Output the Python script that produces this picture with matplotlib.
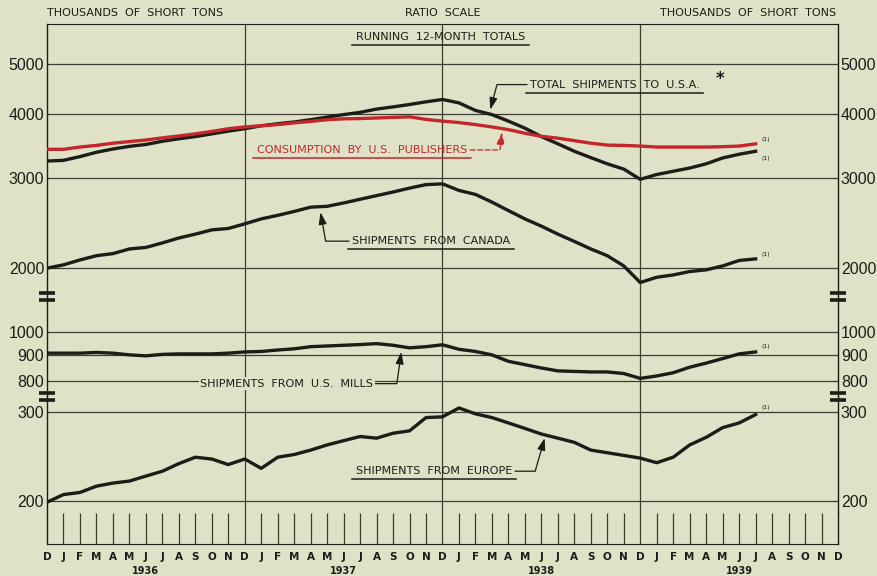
import matplotlib
matplotlib.use("Agg")
import matplotlib.pyplot as plt
from matplotlib.lines import Line2D
from matplotlib.text import Text
from matplotlib.ticker import NullLocator
from matplotlib.transforms import IdentityTransform
import numpy as np

# 12-month running totals, thousands of short tons, Dec 1935 .. Jul 1939
total_usa = [3235, 3245, 3300, 3365, 3415, 3455, 3485, 3535, 3575, 3610, 3655, 3700,
             3740, 3790, 3825, 3855, 3895, 3940, 3985, 4025, 4085, 4125, 4170, 4220,
             4265, 4200, 4060, 3985, 3870, 3750, 3610, 3495, 3380, 3285, 3195, 3120,
             2980, 3045, 3090, 3135, 3195, 3280, 3335, 3380]
consumption = [3410, 3410, 3445, 3470, 3505, 3530, 3555, 3590, 3620, 3655, 3695, 3740,
               3770, 3790, 3810, 3840, 3865, 3895, 3910, 3915, 3925, 3935, 3945, 3900,
               3870, 3845, 3810, 3770, 3725, 3665, 3615, 3585, 3545, 3505, 3475, 3470,
               3460, 3445, 3445, 3445, 3445, 3450, 3460, 3495]
canada = [2000, 2030, 2075, 2115, 2135, 2180, 2195, 2240, 2290, 2330, 2375, 2390,
          2440, 2495, 2535, 2580, 2630, 2640, 2680, 2725, 2770, 2815, 2865, 2910,
          2920, 2835, 2785, 2690, 2590, 2495, 2415, 2330, 2255, 2180, 2115, 2020,
          1875, 1920, 1940, 1970, 1985, 2020, 2070, 2085]
us_mills = [907, 907, 907, 910, 907, 900, 896, 902, 904, 904, 904, 907,
            912, 914, 920, 925, 934, 937, 940, 943, 947, 940, 929, 934,
            942, 923, 914, 900, 874, 861, 848, 837, 835, 833, 833, 827,
            809, 818, 830, 851, 867, 885, 904, 912]
europe = [199, 206, 208, 214, 217, 219, 224, 229, 237, 244, 242, 236,
          242, 232, 244, 247, 252, 258, 263, 268, 266, 272, 275, 292,
          293, 305, 297, 292, 285, 278, 271, 266, 261, 252, 249, 246,
          243, 238, 244, 258, 267, 279, 285, 296]

month_letters = ["D", "J", "F", "M", "A", "M", "J", "J", "A", "S", "O", "N"] * 4 + ["D"]
years = ["1936", "1937", "1938", "1939"]

ticks_hi = [2000, 3000, 4000, 5000]
ticks_mid = [800, 900, 1000]
ticks_lo = [200, 300]

PAPER = "#dfe2c6"
INK = "#1c1c18"
GRID = "#3c3c34"
RED = "#c4262c"
NUM_FONT = ["Liberation Sans", "DejaVu Sans"]

plt.rcParams["font.family"] = "DejaVu Sans"

W, H = 877, 576
L, R = 47, 838
fig = plt.figure(figsize=(W / 100, H / 100), dpi=100, facecolor=PAPER)


def box(top, bottom):
    return [L / W, 1 - bottom / H, (R - L) / W, (bottom - top) / H]


ax_hi = fig.add_axes(box(24, 296))
ax_mid = fig.add_axes(box(296, 396))
ax_lo = fig.add_axes(box(396, 513))
ax_mon = fig.add_axes(box(513, 544))
axes = [ax_hi, ax_mid, ax_lo, ax_mon]

months = np.arange(len(total_usa))

for ax in axes:
    ax.set_facecolor(PAPER)
    ax.set_xlim(0, 48)
    for side in ["top", "bottom"]:
        ax.spines[side].set_visible(False)
    for side in ["left", "right"]:
        ax.spines[side].set_color(INK)
        ax.spines[side].set_linewidth(1.0)
    for x in (12, 24, 36):
        ax.axvline(x, color=GRID, lw=0.9, zorder=1)
ax_hi.spines["top"].set_visible(True)
ax_hi.spines["top"].set_color(INK)
ax_mon.spines["bottom"].set_visible(True)
ax_mon.spines["bottom"].set_color(INK)

for ax, lims, ticks in [(ax_hi, (1765, 5985), ticks_hi),
                        (ax_mid, (747, 1175), ticks_mid),
                        (ax_lo, (189.5, 322), ticks_lo)]:
    ax.set_yscale("log")
    ax.set_ylim(*lims)
    ax.set_yticks(ticks, labels=[str(t) for t in ticks])
    ax.yaxis.set_minor_locator(NullLocator())
    ax.tick_params(axis="y", which="both", length=0, labelleft=True,
                   labelright=True, pad=2, labelsize=11.5, colors=INK)
    for t in ax.yaxis.get_major_ticks():
        t.label1.set_fontfamily(NUM_FONT)
        t.label2.set_fontfamily(NUM_FONT)
    ax.set_xticks([])
    for t in ticks:
        ax.axhline(t, color=GRID, lw=0.9, zorder=1)

# month tick strip
ax_mon.set_ylim(0, 1)
ax_mon.set_yticks([])
minor_months = [m for m in range(1, 48) if m % 12 != 0]
ax_mon.vlines(minor_months, 0, 1, color=GRID, lw=0.9)
ax_mon.set_xticks(range(49), labels=month_letters)
ax_mon.tick_params(axis="x", length=0, pad=6, labelsize=7.5, colors=INK)
for lbl in ax_mon.get_xticklabels():
    lbl.set_fontweight("bold")
for i, yr in enumerate(years):
    ax_mon.text(6 + 12 * i, -0.88, yr, transform=ax_mon.get_xaxis_transform(),
                ha="center", va="center", fontsize=7, fontweight="bold", color=INK)

# data lines
lw = 2.4
ax_hi.plot(months, total_usa, color=INK, lw=lw, solid_joinstyle="round", zorder=3)
ax_hi.plot(months, consumption, color=RED, lw=lw, solid_joinstyle="round", zorder=4)
ax_hi.plot(months, canada, color=INK, lw=lw, solid_joinstyle="round", zorder=3)
ax_mid.plot(months, us_mills, color=INK, lw=lw, solid_joinstyle="round", zorder=3)
ax_lo.plot(months, europe, color=INK, lw=lw, solid_joinstyle="round", zorder=3)

# "(1)" notes at line ends
last = months[-1]
for ax, series, dy in [(ax_hi, consumption, 3), (ax_hi, total_usa, -5),
                       (ax_hi, canada, 3), (ax_mid, us_mills, 4), (ax_lo, europe, 5)]:
    ax.annotate("(1)", xy=(last, series[-1]), xytext=(4, dy), textcoords="offset points",
                fontsize=4.5, color=INK, ha="left", va="center")

# labels with pointers
lab_kw = dict(fontsize=8, va="center", ha="left")
head = "-|>,head_length=0.6,head_width=0.2"

t_total = ax_hi.annotate(
    "TOTAL  SHIPMENTS  TO  U.S.A.", xy=(26.9, 4075), xytext=(29.3, 4560), color=INK,
    arrowprops=dict(arrowstyle=head, color=INK, lw=0.9, mutation_scale=12,
                    connectionstyle="angle,angleA=0,angleB=75,rad=0",
                    relpos=(0, 0.5), shrinkA=0, shrinkB=0), **lab_kw)
ax_hi.text(40.6, 4680, "*", fontsize=12, fontweight="bold", color=INK,
           ha="left", va="center")

t_cons = ax_hi.annotate(
    "CONSUMPTION  BY  U.S.  PUBLISHERS", xy=(27.6, 3680), xytext=(12.75, 3400), color=RED,
    arrowprops=dict(arrowstyle=head, color=RED, lw=0.9, mutation_scale=12,
                    linestyle=(0, (4, 2)),
                    connectionstyle="angle,angleA=0,angleB=84,rad=0",
                    relpos=(1, 0.5), shrinkA=0, shrinkB=0), **lab_kw)

t_can = ax_hi.annotate(
    "SHIPMENTS  FROM  CANADA", xy=(16.6, 2570), xytext=(18.5, 2258), color=INK,
    arrowprops=dict(arrowstyle=head, color=INK, lw=0.9, mutation_scale=12,
                    connectionstyle="angle,angleA=0,angleB=100,rad=0",
                    relpos=(0, 0.5), shrinkA=0, shrinkB=0), **lab_kw)

t_mills = ax_mid.annotate(
    "SHIPMENTS  FROM  U.S.  MILLS", xy=(21.5, 912), xytext=(9.3, 790), color=INK,
    bbox=dict(boxstyle="square,pad=0.15", fc=PAPER, ec="none"),
    arrowprops=dict(arrowstyle=head, color=INK, lw=0.9, mutation_scale=12,
                    connectionstyle="angle,angleA=0,angleB=82,rad=0",
                    relpos=(1, 0.5), shrinkA=0, shrinkB=0), **lab_kw)

t_eur = ax_lo.annotate(
    "SHIPMENTS  FROM  EUROPE", xy=(30.2, 266), xytext=(18.75, 229), color=INK,
    arrowprops=dict(arrowstyle=head, color=INK, lw=0.9, mutation_scale=12,
                    connectionstyle="angle,angleA=0,angleB=74,rad=0",
                    relpos=(1, 0.5), shrinkA=0, shrinkB=0), **lab_kw)

t_run = ax_hi.text(0.497, 0.952, "RUNNING  12-MONTH  TOTALS", transform=ax_hi.transAxes,
                   fontsize=8, ha="center", va="center", color=INK)

# headers
fig.text(L / W, 1 - 13 / H, "THOUSANDS  OF  SHORT  TONS", fontsize=8, ha="left",
         va="center", color=INK)
fig.text(836 / W, 1 - 13 / H, "THOUSANDS  OF  SHORT  TONS", fontsize=8, ha="right",
         va="center", color=INK)
fig.text(443 / W, 1 - 13 / H, "RATIO  SCALE", fontsize=8, ha="center",
         va="center", color=INK)

# scale break marks on both frame edges
for y_px in (296, 396):
    for x_px in (L, R):
        for off in (-3.5, 3.5):
            y = 1 - (y_px + off) / H
            fig.add_artist(Line2D([(x_px - 8) / W, (x_px + 8) / W], [y, y],
                                  transform=fig.transFigure, color=INK, lw=2.6,
                                  solid_capstyle="butt"))

# underline the labels (text extent only, not the arrow)
fig.canvas.draw()
renderer = fig.canvas.get_renderer()
for t, col in [(t_total, INK), (t_cons, RED), (t_can, INK), (t_eur, INK), (t_run, INK)]:
    bb = Text.get_window_extent(t, renderer)
    fig.add_artist(Line2D([bb.x0 - 4, bb.x1 + 4], [bb.y0 - 3, bb.y0 - 3],
                          transform=IdentityTransform(), color=col, lw=1.1))

fig.savefig("out.png", dpi=100, facecolor=PAPER)
